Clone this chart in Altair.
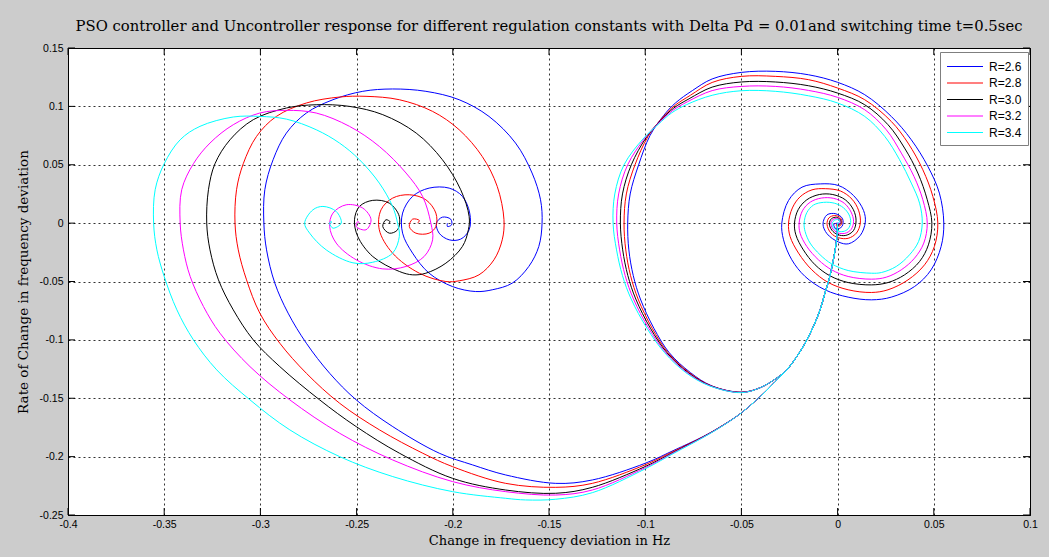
import altair as alt
import pandas as pd

# ---------------- axes / legend values ----------------
X_DOMAIN = [-0.4, 0.1]
Y_DOMAIN = [-0.25, 0.15]
X_TICKS = [-0.4, -0.35, -0.3, -0.25, -0.2, -0.15, -0.1, -0.05, 0, 0.05, 0.1]
Y_TICKS = [-0.25, -0.2, -0.15, -0.1, -0.05, 0, 0.05, 0.1, 0.15]
R_LABELS = ["R=2.6", "R=2.8", "R=3.0", "R=3.2", "R=3.4"]
R_COLORS = ["#0000ff", "#ff0000", "#000000", "#ff00ff", "#00ffff"]

# ---------------- trajectories (x = df, y = d(df)/dt) ----------------
START = [(0.0, 0.0), (-0.0005, -0.0143), (-0.0022, -0.0314), (-0.0045, -0.0486), (-0.0066, -0.06),
         (-0.0091, -0.0743), (-0.0126, -0.0886), (-0.0169, -0.1029), (-0.0212, -0.1143), (-0.0264, -0.1257)]

# uncontrolled responses
UNC_26 = START + [(-0.0324, -0.1357), (-0.0393, -0.1471), (-0.05, -0.1625), (-0.06, -0.1735), (-0.07, -0.1829),
    (-0.085, -0.1945), (-0.1, -0.2057),
    (-0.1275, -0.22), (-0.1465, -0.2229), (-0.1725, -0.2157), (-0.1897, -0.2071), (-0.207, -0.1971),
    (-0.2312, -0.1743), (-0.2502, -0.1514), (-0.264, -0.1286), (-0.2761, -0.1029), (-0.2856, -0.0771),
    (-0.2925, -0.0514), (-0.2968, -0.0229), (-0.2982, 0.0), (-0.2977, 0.0286), (-0.2934, 0.0543),
    (-0.2865, 0.0771), (-0.2761, 0.0943), (-0.2623, 0.1057), (-0.2468, 0.1129), (-0.2313, 0.1149),
    (-0.214, 0.1129), (-0.1967, 0.1057), (-0.1812, 0.0914), (-0.1674, 0.0686), (-0.1588, 0.0429),
    (-0.1544, 0.02), (-0.1536, 0.0), (-0.1553, -0.02), (-0.1605, -0.0371), (-0.1691, -0.0514),
    (-0.1795, -0.0571), (-0.1881, -0.0586), (-0.2002, -0.0543), (-0.2123, -0.0429), (-0.2209, -0.0257),
    (-0.2261, -0.0086), (-0.2261, 0.0086), (-0.2209, 0.0229), (-0.2123, 0.03), (-0.2019, 0.03),
    (-0.195, 0.0229), (-0.1912, 0.0086), (-0.1915, -0.0057), (-0.1959, -0.0137), (-0.2019, -0.0143),
    (-0.2071, -0.0086), (-0.2085, 0.0), (-0.2054, 0.0051), (-0.2011, 0.0034), (-0.2006, -0.0014),
    (-0.2028, -0.0029), (-0.2028, 0.0)]

UNC_28 = START + [(-0.0324, -0.1357), (-0.0393, -0.1471), (-0.05, -0.1625), (-0.06, -0.1736), (-0.07, -0.1831),
    (-0.085, -0.1952), (-0.1, -0.207),
    (-0.1275, -0.2229), (-0.1465, -0.2263), (-0.1725, -0.2229), (-0.2001, -0.2086), (-0.2156, -0.1971),
    (-0.2381, -0.1771), (-0.2588, -0.1543), (-0.2761, -0.1286), (-0.2899, -0.1029), (-0.3003, -0.0771),
    (-0.3072, -0.0486), (-0.3115, -0.0229), (-0.3132, 0.0), (-0.3124, 0.0286), (-0.3089, 0.0509),
    (-0.302, 0.0743), (-0.2917, 0.0914), (-0.2761, 0.1029), (-0.2589, 0.108), (-0.2451, 0.1086),
    (-0.2278, 0.1057), (-0.2105, 0.0957), (-0.1967, 0.08), (-0.1847, 0.0571), (-0.1769, 0.0314),
    (-0.1734, 0.0029), (-0.1743, -0.0143), (-0.1786, -0.0314), (-0.1864, -0.0443), (-0.1967, -0.0494),
    (-0.2036, -0.05), (-0.2174, -0.0429), (-0.2313, -0.0257), (-0.2382, -0.0057), (-0.2373, 0.0114),
    (-0.2313, 0.0214), (-0.2226, 0.0243), (-0.214, 0.02), (-0.2088, 0.0086), (-0.2088, -0.0029),
    (-0.2123, -0.0086), (-0.2192, -0.0086), (-0.2226, -0.0029), (-0.2209, 0.0034), (-0.2174, 0.0023),
    (-0.2183, 0.0)]

UNC_30 = START + [(-0.0324, -0.1357), (-0.0393, -0.1471), (-0.05, -0.1625), (-0.06, -0.1737), (-0.07, -0.1833),
    (-0.085, -0.196), (-0.1, -0.2085),
    (-0.1275, -0.2263), (-0.1465, -0.2314), (-0.1725, -0.2286), (-0.2001, -0.2186), (-0.2277, -0.1971),
    (-0.2502, -0.1743), (-0.2692, -0.1514), (-0.2899, -0.1229), (-0.3037, -0.1), (-0.3141, -0.0743),
    (-0.3218, -0.0486), (-0.3262, -0.0229), (-0.3279, 0.0), (-0.327, 0.0286), (-0.3236, 0.0509),
    (-0.3158, 0.0714), (-0.3037, 0.0886), (-0.2865, 0.0986), (-0.271, 0.1014), (-0.2537, 0.1),
    (-0.2364, 0.0929), (-0.219, 0.0771), (-0.2054, 0.0543), (-0.1959, 0.0286), (-0.1915, 0.0057),
    (-0.1919, -0.0057), (-0.195, -0.02), (-0.2036, -0.0343), (-0.214, -0.0429), (-0.2208, -0.0443),
    (-0.2278, -0.0414), (-0.2416, -0.0286), (-0.2494, -0.0114), (-0.2511, 0.0029), (-0.2485, 0.0143),
    (-0.2416, 0.0195), (-0.233, 0.0171), (-0.2278, 0.0057), (-0.2287, -0.0057), (-0.233, -0.0086),
    (-0.2364, -0.0029), (-0.2347, 0.0029), (-0.2325, 0.001), (-0.2333, 0.0)]

UNC_32 = START + [(-0.0324, -0.1357), (-0.0393, -0.1471), (-0.05, -0.1625), (-0.06, -0.1738), (-0.07, -0.1835),
    (-0.085, -0.1965), (-0.1, -0.2095),
    (-0.1275, -0.2286), (-0.1465, -0.2329), (-0.1725, -0.23), (-0.2001, -0.2214), (-0.2312, -0.2029),
    (-0.2588, -0.18), (-0.2847, -0.1514), (-0.3054, -0.1229), (-0.321, -0.0943), (-0.3296, -0.0714),
    (-0.3365, -0.0457), (-0.34, -0.0229), (-0.3417, 0.0), (-0.3409, 0.0286), (-0.3348, 0.0509),
    (-0.3262, 0.0686), (-0.3141, 0.0843), (-0.3003, 0.0943), (-0.2865, 0.0966), (-0.271, 0.0943),
    (-0.2537, 0.0829), (-0.2382, 0.0657), (-0.2243, 0.0429), (-0.2157, 0.0229), (-0.2114, 0.0),
    (-0.2105, -0.0143), (-0.2149, -0.0286), (-0.2243, -0.0371), (-0.2364, -0.0392), (-0.2502, -0.0314),
    (-0.2606, -0.0171), (-0.264, -0.0029), (-0.2623, 0.0086), (-0.2554, 0.0157), (-0.2468, 0.0129),
    (-0.2425, 0.0029), (-0.2451, -0.0057), (-0.2502, -0.0029), (-0.2494, 0.0014), (-0.2485, 0.0)]

UNC_34 = START + [(-0.0324, -0.1357), (-0.0393, -0.1471), (-0.05, -0.1625), (-0.06, -0.1739), (-0.07, -0.1837),
    (-0.085, -0.197), (-0.1, -0.2105),
    (-0.1275, -0.2309), (-0.1465, -0.2365), (-0.1622, -0.2371), (-0.1725, -0.2357), (-0.2001, -0.23),
    (-0.2312, -0.2171), (-0.2588, -0.2), (-0.2847, -0.1771), (-0.3054, -0.1514), (-0.3227, -0.1257),
    (-0.3348, -0.1), (-0.3434, -0.0743), (-0.35, -0.0457), (-0.3538, -0.0229), (-0.3555, 0.0),
    (-0.3547, 0.0286), (-0.35, 0.0509), (-0.3417, 0.0714), (-0.3314, 0.0829), (-0.3141, 0.0909),
    (-0.3003, 0.0914), (-0.2865, 0.0891), (-0.271, 0.08), (-0.2589, 0.0686), (-0.2485, 0.0543),
    (-0.2382, 0.0343), (-0.2313, 0.0143), (-0.2287, 0.0), (-0.2278, -0.0114), (-0.2313, -0.0257),
    (-0.2416, -0.0335), (-0.2519, -0.034), (-0.2658, -0.0229), (-0.2744, -0.0086), (-0.277, 0.0),
    (-0.2727, 0.0114), (-0.2675, 0.0143), (-0.2606, 0.01), (-0.258, 0.0), (-0.2623, -0.0043),
    (-0.264, 0.0), (-0.2632, 0.0015), (-0.263, 0.0)]

# PSO controlled responses (switch at t = 0.5 s)
PSO_26 = START + [(-0.0315, -0.1325), (-0.04, -0.1408), (-0.05, -0.1448), (-0.0655, -0.1393), (-0.0765, -0.128),
    (-0.0875, -0.111), (-0.0955, -0.09), (-0.1025, -0.065), (-0.1062, -0.045), (-0.1085, -0.0229),
    (-0.1091, 0.0), (-0.1078, 0.025), (-0.1034, 0.05), (-0.0975, 0.075), (-0.0905, 0.092),
    (-0.0843, 0.1029), (-0.0755, 0.1135), (-0.0652, 0.1235), (-0.05, 0.1291), (-0.0324, 0.13),
    (-0.0152, 0.1271), (0.0, 0.1206), (0.0141, 0.11), (0.0279, 0.0914), (0.0383, 0.0714),
    (0.0469, 0.0486), (0.0529, 0.0257), (0.0552, 0.0), (0.0538, -0.02), (0.0486, -0.04),
    (0.04, -0.0543), (0.0279, -0.0634), (0.0176, -0.0657), (0.0055, -0.0634), (-0.0066, -0.0571),
    (-0.0169, -0.0457), (-0.0238, -0.0314), (-0.0281, -0.0143), (-0.029, 0.0), (-0.0255, 0.0194),
    (-0.0185, 0.0308), (-0.009, 0.0336), (0.0005, 0.0322), (0.0083, 0.0236), (0.0135, 0.0108),
    (0.0144, 0.0009), (0.0118, -0.0105), (0.0057, -0.0177), (0.0005, -0.0162), (-0.0055, -0.0091),
    (-0.0076, -0.0006), (-0.0055, 0.0071), (-0.0009, 0.008), (0.0026, 0.0037), (0.0023, -0.0028),
    (-0.0007, -0.0051), (-0.002, -0.001), (0.0, 0.0)]

PSO_28 = START + [(-0.0315, -0.1325), (-0.04, -0.1408), (-0.05, -0.1449), (-0.0658, -0.1393), (-0.0771, -0.128),
    (-0.0881, -0.111), (-0.0964, -0.09), (-0.1037, -0.065), (-0.1076, -0.045), (-0.1101, -0.0229),
    (-0.111, 0.0), (-0.1098, 0.025), (-0.1053, 0.05), (-0.0986, 0.074), (-0.0912, 0.09),
    (-0.0848, 0.1005), (-0.0765, 0.1095), (-0.0652, 0.1205), (-0.05, 0.1257), (-0.0324, 0.1257),
    (-0.0152, 0.1229), (0.0, 0.1157), (0.0141, 0.1057), (0.0279, 0.0871), (0.0366, 0.0686),
    (0.0443, 0.0457), (0.0495, 0.0229), (0.0521, 0.0), (0.0503, -0.02), (0.0452, -0.0357),
    (0.0366, -0.0486), (0.0262, -0.0571), (0.0176, -0.0594), (0.0055, -0.0571), (-0.0048, -0.0509),
    (-0.0134, -0.04), (-0.0203, -0.0257), (-0.0247, -0.0114), (-0.0255, 0.0), (-0.0235, 0.013),
    (-0.0195, 0.0225), (-0.0133, 0.0285), (-0.0064, 0.0295), (0.0015, 0.0275), (0.0075, 0.0205),
    (0.011, 0.0105), (0.0118, 0.0), (0.0098, -0.0085), (0.0055, -0.013), (0.0005, -0.0125),
    (-0.0035, -0.0085), (-0.0055, -0.001), (-0.0045, 0.0045), (-0.0015, 0.0065), (0.0015, 0.0045),
    (0.0022, 0.0), (0.001, -0.0025), (-0.0008, -0.002), (0.0, 0.0)]

PSO_30 = START + [(-0.0315, -0.1325), (-0.04, -0.1408), (-0.05, -0.145), (-0.0661, -0.1393), (-0.0777, -0.128),
    (-0.0887, -0.111), (-0.0973, -0.09), (-0.1049, -0.065), (-0.109, -0.045), (-0.1117, -0.0229),
    (-0.1129, 0.0), (-0.1118, 0.025), (-0.1072, 0.05), (-0.0996, 0.073), (-0.092, 0.088),
    (-0.0852, 0.0985), (-0.0772, 0.1065), (-0.0652, 0.1165), (-0.05, 0.1209), (-0.0324, 0.1209),
    (-0.0152, 0.1177), (0.0, 0.1114), (0.0141, 0.1014), (0.0262, 0.0843), (0.0348, 0.0643),
    (0.0417, 0.0429), (0.0466, 0.02), (0.049, 0.0), (0.0472, -0.0186), (0.0426, -0.0329),
    (0.0348, -0.0443), (0.0262, -0.0509), (0.0176, -0.0529), (0.0055, -0.0509), (-0.004, -0.0451),
    (-0.0117, -0.0357), (-0.0178, -0.0229), (-0.0217, -0.01), (-0.0224, 0.0), (-0.0205, 0.0115),
    (-0.016, 0.02), (-0.0095, 0.0245), (-0.0025, 0.0245), (0.004, 0.02), (0.0082, 0.0115),
    (0.0096, 0.002), (0.0082, -0.0065), (0.0043, -0.0105), (0.0, -0.0098), (-0.003, -0.006),
    (-0.0043, -0.0005), (-0.0032, 0.0038), (-0.0005, 0.005), (0.0015, 0.0028), (0.0015, -0.0008),
    (0.0, -0.0015), (0.0, 0.0)]

PSO_32 = START + [(-0.0315, -0.1325), (-0.04, -0.1408), (-0.05, -0.1451), (-0.0664, -0.1393), (-0.0783, -0.128),
    (-0.0893, -0.111), (-0.0982, -0.09), (-0.1061, -0.065), (-0.1104, -0.045), (-0.1133, -0.0229),
    (-0.1148, 0.0), (-0.1138, 0.025), (-0.1091, 0.05), (-0.1003, 0.0725), (-0.0926, 0.0865),
    (-0.0857, 0.0965), (-0.078, 0.104), (-0.0652, 0.1135), (-0.05, 0.1171), (-0.0324, 0.1171),
    (-0.0152, 0.1137), (0.0, 0.1077), (0.0141, 0.0971), (0.0253, 0.08), (0.0331, 0.06),
    (0.0397, 0.04), (0.0443, 0.02), (0.0466, 0.0), (0.0448, -0.0171), (0.04, -0.03),
    (0.0331, -0.04), (0.0253, -0.0463), (0.0176, -0.048), (0.0055, -0.0457), (-0.0031, -0.04),
    (-0.01, -0.0314), (-0.016, -0.02), (-0.0195, -0.0086), (-0.02, 0.0), (-0.0183, 0.0105),
    (-0.0142, 0.018), (-0.0083, 0.0215), (-0.002, 0.0212), (0.0035, 0.017), (0.007, 0.0095),
    (0.0083, 0.0015), (0.007, -0.0055), (0.0037, -0.0088), (0.0, -0.0082), (-0.0025, -0.005),
    (-0.0035, 0.0), (-0.0025, 0.003), (0.0, 0.004), (0.0012, 0.002), (0.001, -0.0008), (0.0, 0.0)]

PSO_34 = START + [(-0.0315, -0.1325), (-0.04, -0.1408), (-0.05, -0.1452), (-0.0667, -0.1393), (-0.0789, -0.128),
    (-0.0899, -0.111), (-0.0991, -0.09), (-0.1073, -0.065), (-0.1118, -0.045), (-0.1149, -0.0229),
    (-0.1167, 0.0), (-0.1158, 0.025), (-0.111, 0.05), (-0.1012, 0.072), (-0.0933, 0.0845),
    (-0.0862, 0.0945), (-0.0785, 0.1015), (-0.0652, 0.1095), (-0.05, 0.1134), (-0.0324, 0.1129),
    (-0.0152, 0.1091), (0.0, 0.1029), (0.0141, 0.0914), (0.0245, 0.0743), (0.0322, 0.0543),
    (0.0383, 0.0343), (0.0426, 0.0171), (0.044, 0.0), (0.0421, -0.0157), (0.0374, -0.0271),
    (0.0305, -0.0371), (0.0228, -0.0423), (0.0176, -0.0429), (0.0055, -0.0406), (-0.0031, -0.0349),
    (-0.0091, -0.0271), (-0.0143, -0.0171), (-0.0169, -0.0071), (-0.0174, 0.0), (-0.016, 0.009),
    (-0.0125, 0.0155), (-0.0073, 0.0178), (-0.0015, 0.017), (0.003, 0.0132), (0.006, 0.007),
    (0.0068, 0.0005), (0.0055, -0.0048), (0.0028, -0.0072), (0.0, -0.0066), (-0.0022, -0.004),
    (-0.0028, 0.0), (-0.0015, 0.0025), (0.0005, 0.003), (0.001, 0.001), (0.0, 0.0)]

CURVES = [
    ("R=2.6", "unc", UNC_26), ("R=2.6", "pso", PSO_26),
    ("R=2.8", "unc", UNC_28), ("R=2.8", "pso", PSO_28),
    ("R=3.0", "unc", UNC_30), ("R=3.0", "pso", PSO_30),
    ("R=3.2", "unc", UNC_32), ("R=3.2", "pso", PSO_32),
    ("R=3.4", "unc", UNC_34), ("R=3.4", "pso", PSO_34),
]

rows = []
for label, kind, pts in CURVES:
    for i, (xv, yv) in enumerate(pts):
        rows.append({"x": xv, "y": yv, "R": label, "curve": label + "_" + kind, "i": i})
df = pd.DataFrame(rows)

W, H = 962, 467
TICK_LEN = 7
SERIF = "DejaVu Serif"

x_axis = alt.Axis(values=X_TICKS, labelExpr="'' + datum.value", title="Change in frequency deviation in Hz",
                  grid=True, gridColor="#000000", gridDash=[2, 3], gridWidth=1, gridOpacity=0.8,
                  ticks=False, domain=False, labelFont="Liberation Sans", labelFontSize=10.5,
                  labelColor="#000000", labelPadding=4, labelFlush=False, labelOverlap=False,
                  titleFont=SERIF, titleFontSize=13, titleFontWeight="normal",
                  titleColor="#000000", titlePadding=5)
y_axis = alt.Axis(values=Y_TICKS, labelExpr="'' + datum.value", title="Rate of Change in frequency deviation",
                  grid=True, gridColor="#000000", gridDash=[2, 3], gridWidth=1, gridOpacity=0.8,
                  ticks=False, domain=False, labelFont="Liberation Sans", labelFontSize=10.5,
                  labelColor="#000000", labelPadding=5, labelFlush=False, labelOverlap=False,
                  titleFont=SERIF, titleFontSize=13.5, titleFontWeight="normal",
                  titleColor="#000000", titlePadding=9)

X_ENC = alt.X("x:Q", scale=alt.Scale(domain=X_DOMAIN, nice=False, zero=False), axis=x_axis)
Y_ENC = alt.Y("y:Q", scale=alt.Scale(domain=Y_DOMAIN, nice=False, zero=False), axis=y_axis)

lines = alt.Chart(df).mark_line(strokeWidth=1, interpolate="catmull-rom", clip=True).encode(
    x=X_ENC,
    y=Y_ENC,
    color=alt.Color("R:N", scale=alt.Scale(domain=R_LABELS, range=R_COLORS),
                    legend=alt.Legend(title=None, orient="none", legendX=872, legendY=4,
                                      fillColor="white", strokeColor="#7f7f7f", padding=6,
                                      symbolType="M-1,0H3.8", symbolSize=225, symbolStrokeWidth=1.2,
                                      labelFont="Liberation Sans", labelFontSize=12, labelColor="#000000",
                                      labelOffset=26, rowPadding=1.5)),
    detail="curve:N",
    order="i:Q",
)

xt = pd.DataFrame({"x": X_TICKS})
yt = pd.DataFrame({"y": Y_TICKS})
tick_b = alt.Chart(xt).mark_rule(color="#000000", strokeWidth=1).encode(
    x=X_ENC, y=alt.value(H), y2=alt.value(H - TICK_LEN))
tick_t = alt.Chart(xt).mark_rule(color="#000000", strokeWidth=1).encode(
    x=X_ENC, y=alt.value(0), y2=alt.value(TICK_LEN))
tick_l = alt.Chart(yt).mark_rule(color="#000000", strokeWidth=1).encode(
    y=Y_ENC, x=alt.value(0), x2=alt.value(TICK_LEN))
tick_r = alt.Chart(yt).mark_rule(color="#000000", strokeWidth=1).encode(
    y=Y_ENC, x=alt.value(W), x2=alt.value(W - TICK_LEN))

chart = alt.layer(tick_b, tick_t, tick_l, tick_r, lines).properties(
    width=W, height=H,
    title=alt.TitleParams(
        text="PSO controller and Uncontroller response for different regulation constants with Delta Pd = 0.01and switching time t=0.5sec",
        font=SERIF, fontSize=14.8, fontWeight="normal", color="#000000",
        anchor="middle", offset=9),
    padding={"left": 68, "top": 48, "right": 19, "bottom": 42},
    autosize=alt.AutoSizeParams(type="none"),
    background="#cccccc",
).configure_view(fill="white", stroke="#000000", strokeWidth=1)

chart.save("out.html", embed_options={"renderer": "svg", "actions": False})
